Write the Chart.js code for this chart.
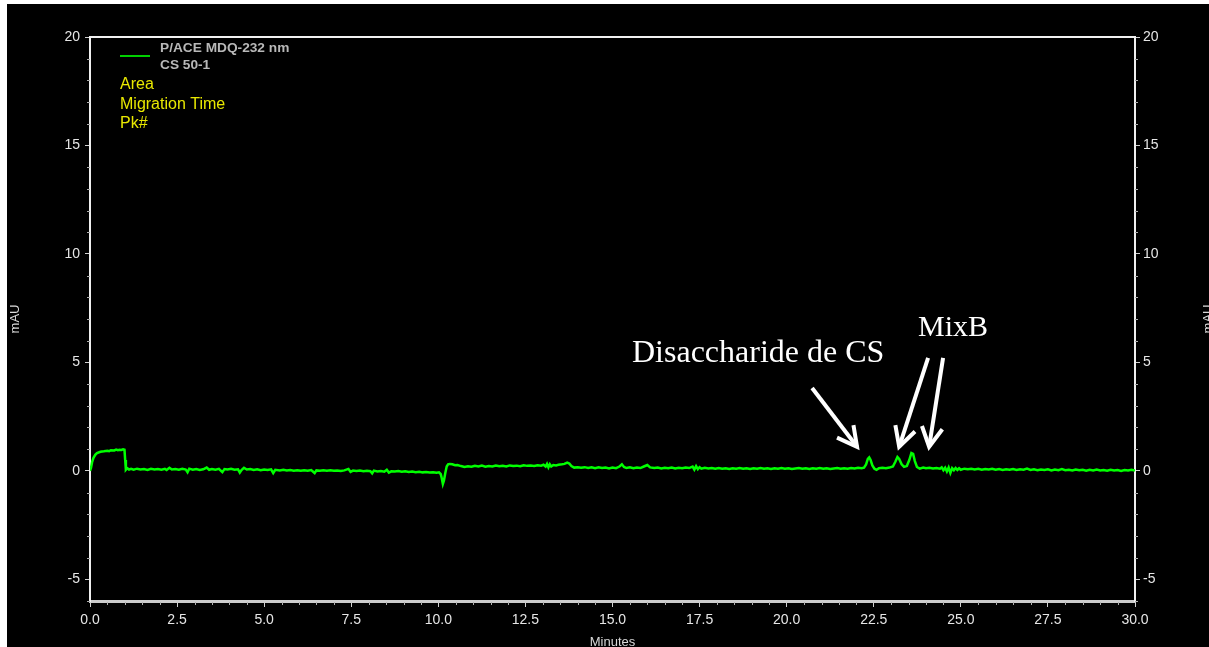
<!DOCTYPE html>
<html>
<head>
<meta charset="utf-8">
<title>P/ACE MDQ-232 nm - CS 50-1</title>
<script src="https://cdn.jsdelivr.net/npm/chart.js@4"></script>
<style>
  html, body { margin: 0; padding: 0; background: #fff; }
  #frame { position: absolute; left: 7px; top: 4px; width: 1202px; height: 643px; background: #000; overflow: hidden; }
  canvas { display: block; }
</style>
</head>
<body>
<div id="frame"><canvas id="electropherogram" width="1202" height="643"></canvas></div>
<script>
// trace: [minutes, mAU]
const trace = [
  [0,0],[0.03,0.15],[0.06,0.4],[0.1,0.6],[0.15,0.74],[0.2,0.82],[0.3,0.88],[0.4,0.9],[0.5,0.93],[0.55,0.91],
  [0.6,0.95],[0.7,0.94],[0.75,0.98],[0.8,0.95],[0.85,0.97],[0.9,0.96],[0.95,0.99],[0.99,0.97],[1.01,0.5],[1.03,0.05],
  [1.07,0.12],[1.12,0.06],[1.18,0.09],[1.25,0.05],[1.35,0.1],[1.45,0.06],[1.55,0.08],[1.65,0.04],[1.75,0.09],[1.85,0.06],
  [1.95,0.08],[2.05,0.05],[2.15,0.09],[2.2,0.04],[2.28,0.14],[2.35,0.06],[2.45,0.08],[2.55,0.05],[2.65,0.09],[2.75,0.06],
  [2.8,-0.06],[2.85,0.1],[2.95,0.05],[3.05,0.08],[3.15,0.04],[3.25,0.07],[3.35,0.15],[3.42,0.05],[3.5,0.08],[3.6,0.05],
  [3.7,0.09],[3.8,-0.06],[3.86,0.08],[3.95,0.06],[4.05,0.09],[4.15,0.05],[4.25,0.07],[4.3,-0.08],[4.35,0.04],[4.42,0.14],
  [4.5,0.06],[4.6,0.08],[4.7,0.04],[4.8,0.07],[4.9,0.03],[5.0,0.06],[5.1,0.04],[5.2,0.07],[5.26,-0.1],[5.32,0.05],
  [5.45,0.02],[5.55,0.05],[5.65,0.02],[5.75,0.04],[5.85,0.01],[5.95,0.03],[6.05,0.0],[6.15,0.03],[6.25,0.01],[6.35,0.04],
  [6.45,-0.1],[6.5,0.02],[6.6,0.0],[6.7,0.03],[6.8,0.01],[6.9,0.03],[7.0,0.0],[7.1,0.02],[7.2,-0.01],[7.3,0.02],
  [7.42,0.09],[7.48,-0.05],[7.55,0.01],[7.65,-0.01],[7.75,0.01],[7.85,-0.02],[7.95,0.0],[8.05,-0.02],[8.1,-0.12],[8.15,0.01],
  [8.25,-0.03],[8.35,-0.01],[8.45,-0.04],[8.52,0.05],[8.58,-0.08],[8.65,-0.02],[8.75,-0.03],[8.85,-0.01],[8.95,-0.04],[9.05,-0.02],
  [9.15,-0.05],[9.25,-0.03],[9.35,-0.06],[9.45,-0.04],[9.55,-0.07],[9.65,-0.05],[9.75,-0.08],[9.85,-0.06],[9.95,-0.09],[10.02,-0.07],
  [10.07,-0.15],[10.1,-0.35],[10.13,-0.6],[10.16,-0.45],[10.2,-0.1],[10.24,0.2],[10.28,0.3],[10.33,0.32],[10.4,0.3],[10.48,0.26],
  [10.55,0.27],[10.65,0.22],[10.75,0.18],[10.85,0.21],[10.95,0.19],[11.05,0.23],[11.15,0.2],[11.25,0.24],[11.35,0.19],[11.45,0.22],
  [11.55,0.2],[11.65,0.24],[11.75,0.21],[11.85,0.23],[11.95,0.2],[12.05,0.25],[12.15,0.22],[12.25,0.24],[12.35,0.21],[12.45,0.26],
  [12.55,0.23],[12.65,0.25],[12.75,0.22],[12.85,0.26],[12.95,0.24],[13.02,0.28],[13.08,0.2],[13.12,0.32],[13.16,0.16],[13.2,0.3],
  [13.24,0.2],[13.3,0.27],[13.38,0.25],[13.45,0.28],[13.55,0.3],[13.62,0.32],[13.7,0.38],[13.76,0.34],[13.82,0.22],[13.9,0.15],
  [14.0,0.17],[14.1,0.14],[14.2,0.17],[14.3,0.13],[14.4,0.16],[14.5,0.12],[14.6,0.16],[14.7,0.13],[14.8,0.15],[14.9,0.11],
  [15.0,0.15],[15.1,0.12],[15.2,0.2],[15.27,0.3],[15.33,0.18],[15.4,0.13],[15.5,0.16],[15.6,0.12],[15.7,0.15],[15.8,0.13],
  [15.9,0.2],[16.0,0.27],[16.08,0.16],[16.2,0.13],[16.3,0.15],[16.4,0.11],[16.5,0.14],[16.6,0.12],[16.7,0.15],[16.8,0.11],
  [16.9,0.14],[17.0,0.12],[17.1,0.15],[17.2,0.13],[17.3,0.2],[17.35,0.06],[17.4,0.22],[17.45,0.08],[17.5,0.17],[17.55,0.1],
  [17.65,0.14],[17.75,0.11],[17.85,0.13],[17.95,0.1],[18.05,0.13],[18.15,0.1],[18.25,0.12],[18.35,0.09],[18.45,0.12],[18.55,0.1],
  [18.65,0.13],[18.75,0.1],[18.85,0.12],[18.95,0.09],[19.05,0.12],[19.15,0.1],[19.25,0.13],[19.35,0.1],[19.45,0.12],[19.55,0.09],
  [19.65,0.12],[19.75,0.1],[19.85,0.13],[19.95,0.1],[20.05,0.12],[20.15,0.09],[20.25,0.11],[20.35,0.13],[20.45,0.1],[20.55,0.12],
  [20.65,0.09],[20.75,0.12],[20.85,0.1],[20.95,0.13],[21.05,0.1],[21.15,0.12],[21.25,0.09],[21.35,0.11],[21.45,0.13],[21.55,0.1],
  [21.65,0.12],[21.75,0.1],[21.85,0.13],[21.95,0.11],[22.05,0.14],[22.15,0.12],[22.22,0.15],[22.28,0.3],[22.33,0.55],[22.37,0.62],
  [22.41,0.5],[22.46,0.25],[22.52,0.1],[22.58,0.05],[22.65,0.12],[22.75,0.14],[22.85,0.12],[22.95,0.15],[23.05,0.2],[23.12,0.42],
  [23.18,0.64],[23.23,0.55],[23.3,0.3],[23.37,0.18],[23.45,0.22],[23.52,0.5],[23.58,0.82],[23.63,0.78],[23.68,0.45],[23.74,0.18],
  [23.82,0.1],[23.92,0.15],[24.0,0.12],[24.1,0.14],[24.2,0.11],[24.3,0.13],[24.4,0.1],[24.45,0.16],[24.5,0.03],[24.55,0.14],
  [24.6,-0.03],[24.65,0.15],[24.7,-0.1],[24.75,0.12],[24.8,0.03],[24.85,0.13],[24.9,0.04],[24.95,0.12],[25.0,0.05],[25.1,0.1],
  [25.2,0.07],[25.3,0.1],[25.4,0.06],[25.5,0.09],[25.6,0.05],[25.7,0.08],[25.8,0.06],[25.9,0.09],[26.0,0.05],[26.1,0.08],
  [26.2,0.04],[26.3,0.07],[26.4,0.05],[26.5,0.08],[26.6,0.04],[26.7,0.07],[26.8,0.05],[26.9,0.1],[27.0,0.04],[27.1,0.07],
  [27.2,0.03],[27.3,0.06],[27.4,0.04],[27.5,0.07],[27.6,0.02],[27.7,0.06],[27.8,0.03],[27.9,0.08],[28.0,0.03],[28.1,0.05],
  [28.2,0.02],[28.3,0.06],[28.4,0.03],[28.5,0.05],[28.6,0.01],[28.7,0.05],[28.8,0.02],[28.9,0.06],[29.0,0.02],[29.1,0.04],
  [29.2,0.01],[29.3,0.05],[29.4,0.02],[29.5,0.04],[29.6,0.0],[29.7,0.04],[29.8,0.02],[29.9,0.05],[30.0,0.02]
];

const yTicks = [-5, 0, 5, 10, 15, 20];
const legendLines = ['P/ACE MDQ-232 nm', 'CS 50-1'];
const resultLines = ['Area', 'Migration Time', 'Pk#'];

// labels and arrows, in minutes / mAU
const notes = [
  { text: 'Disaccharide de CS', t: 15.56, v: 5.02, size: 32 },
  { text: 'MixB', t: 23.77, v: 6.22, size: 30 }
];
const arrows = [
  [20.73, 3.82, 22.02, 1.11],
  [24.06, 5.21, 23.23, 1.11],
  [24.49, 5.21, 24.09, 1.11]
];

const FONT = "'Liberation Sans', Arial, sans-serif";
Chart.defaults.font.family = FONT;

const decor = {
  id: 'decor',
  afterDraw(chart) {
    const ctx = chart.ctx;
    const a = chart.chartArea;
    const x = chart.scales.x, y = chart.scales.y;
    ctx.save();

    // frame top
    ctx.strokeStyle = '#f0f0f0';
    ctx.lineWidth = 2;
    ctx.beginPath();
    ctx.moveTo(a.left, a.top);
    ctx.lineTo(a.right, a.top);
    ctx.stroke();

    // minor ticks
    ctx.strokeStyle = '#b0b0b0';
    ctx.lineWidth = 1;
    ctx.beginPath();
    for (let m = 0.5; m < 30; m += 0.5) {
      if (Math.abs(m / 2.5 - Math.round(m / 2.5)) < 1e-6) continue;
      const px = Math.round(x.getPixelForValue(m)) + 0.5;
      ctx.moveTo(px, a.bottom + 1);
      ctx.lineTo(px, a.bottom + 4);
    }
    for (let v = -6; v < 20; v += 1) {
      if (v % 5 === 0) continue;
      const py = Math.round(y.getPixelForValue(v)) + 0.5;
      ctx.moveTo(a.left - 3, py);
      ctx.lineTo(a.left, py);
      ctx.moveTo(a.right, py);
      ctx.lineTo(a.right + 3, py);
    }
    ctx.stroke();

    // axis titles
    ctx.fillStyle = '#d8d8d8';
    ctx.font = '13px ' + FONT;
    ctx.textAlign = 'center';
    ctx.textBaseline = 'top';
    ctx.fillText('Minutes', (a.left + a.right) / 2, 632);
    ctx.save();
    ctx.translate(1195, (a.top + a.bottom) / 2);
    ctx.rotate(-Math.PI / 2);
    ctx.fillText('mAU', 0, 0);
    ctx.restore();

    // legend block
    ctx.strokeStyle = '#00d000';
    ctx.lineWidth = 2;
    ctx.beginPath();
    ctx.moveTo(113, 52);
    ctx.lineTo(143, 52);
    ctx.stroke();
    ctx.textAlign = 'left';
    ctx.textBaseline = 'middle';
    ctx.fillStyle = '#b8b8b8';
    ctx.font = 'bold 13.7px ' + FONT;
    legendLines.forEach((s, i) => ctx.fillText(s, 153, 44 + i * 17));
    ctx.fillStyle = '#e8e800';
    ctx.font = '16px ' + FONT;
    resultLines.forEach((s, i) => ctx.fillText(s, 113, 81 + i * 19.5));

    // annotations
    ctx.fillStyle = '#ffffff';
    ctx.textBaseline = 'alphabetic';
    notes.forEach(n => {
      ctx.font = n.size + "px 'Liberation Serif', 'Times New Roman', serif";
      ctx.fillText(n.text, x.getPixelForValue(n.t), y.getPixelForValue(n.v));
    });
    ctx.strokeStyle = '#ffffff';
    ctx.lineWidth = 4;
    ctx.lineCap = 'butt';
    ctx.lineJoin = 'miter';
    arrows.forEach(([t0, v0, t1, v1]) => {
      const x0 = x.getPixelForValue(t0), y0 = y.getPixelForValue(v0);
      const x1 = x.getPixelForValue(t1), y1 = y.getPixelForValue(v1);
      const ang = Math.atan2(y0 - y1, x0 - x1);
      const len = 22, spread = 28 * Math.PI / 180;
      ctx.beginPath();
      ctx.moveTo(x0, y0);
      ctx.lineTo(x1, y1);
      ctx.stroke();
      ctx.beginPath();
      ctx.moveTo(x1 + len * Math.cos(ang - spread), y1 + len * Math.sin(ang - spread));
      ctx.lineTo(x1, y1);
      ctx.lineTo(x1 + len * Math.cos(ang + spread), y1 + len * Math.sin(ang + spread));
      ctx.stroke();
    });
    ctx.restore();
  }
};

const yAxis = (pos) => ({
  type: 'linear',
  position: pos,
  min: -6,
  max: 20,
  afterBuildTicks: s => { s.ticks = yTicks.map(v => ({ value: v })); },
  afterFit: s => { s.width = pos === 'left' ? 83 : 74; },
  border: { display: true, color: '#f0f0f0', width: 2 },
  grid: { drawOnChartArea: false, drawTicks: true, tickLength: 5, tickColor: '#d0d0d0' },
  ticks: { color: '#e6e6e6', font: { size: 14 }, padding: pos === 'left' ? 5 : 3 },
  title: pos === 'left'
    ? { display: true, text: 'mAU', color: '#d8d8d8', font: { size: 13 }, padding: { top: 1, bottom: 0 } }
    : { display: false }
});

new Chart(document.getElementById('electropherogram'), {
  type: 'line',
  data: {
    datasets: [{
      label: 'P/ACE MDQ-232 nm',
      data: trace.map(([t, v]) => ({ x: t, y: v })),
      borderColor: '#00ff00',
      borderWidth: 2.5,
      pointRadius: 0,
      tension: 0,
      yAxisID: 'y'
    }]
  },
  options: {
    responsive: false,
    animation: false,
    layout: { padding: { top: 33, left: 0, right: 0, bottom: 0 } },
    plugins: { legend: { display: false }, tooltip: { enabled: false } },
    scales: {
      x: {
        type: 'linear',
        min: 0,
        max: 30,
        afterFit: s => { s.height = 46; },
        border: { display: true, color: '#cccccc', width: 3 },
        grid: { drawOnChartArea: false, drawTicks: true, tickLength: 6, tickColor: '#d0d0d0' },
        ticks: { stepSize: 2.5, color: '#e6e6e6', font: { size: 14 }, padding: 5, maxRotation: 0,
                 callback: v => Number(v).toFixed(1) }
      },
      y: yAxis('left'),
      y2: yAxis('right')
    }
  },
  plugins: [decor]
});
</script>
</body>
</html>
